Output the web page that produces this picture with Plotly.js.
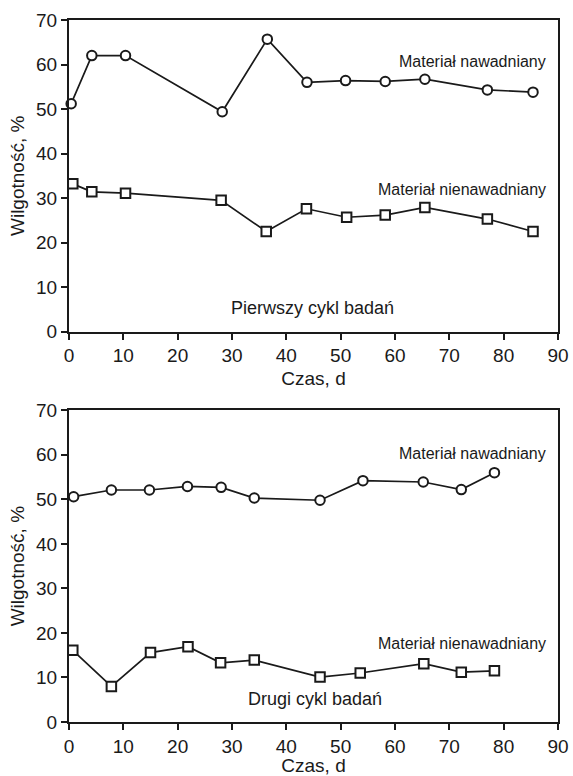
<!DOCTYPE html>
<html>
<head>
<meta charset="utf-8">
<script src="https://cdn.plot.ly/plotly-3.0.1.min.js"></script>
<style>html,body{margin:0;padding:0;background:#fff}#c{width:573px;height:776px}</style>
</head>
<body>
<div id="c"></div>
<script>
// Cycle 1 (Pierwszy cykl badań)
const c1WetX = [0.4, 4.2, 10.4, 28.2, 36.5, 43.8, 50.9, 58.2, 65.5, 77.0, 85.4];
const c1WetY = [51.2, 62.0, 62.0, 49.4, 65.7, 56.0, 56.4, 56.2, 56.7, 54.3, 53.8];
const c1DryX = [0.7, 4.2, 10.4, 28.0, 36.3, 43.7, 51.1, 58.2, 65.5, 77.0, 85.4];
const c1DryY = [33.2, 31.4, 31.1, 29.5, 22.5, 27.6, 25.7, 26.2, 27.9, 25.3, 22.5];
// Cycle 2 (Drugi cykl badań)
const c2WetX = [0.85, 7.8, 14.8, 21.8, 28.0, 34.1, 46.2, 54.1, 65.2, 72.2, 78.3];
const c2WetY = [50.6, 52.1, 52.1, 52.9, 52.7, 50.3, 49.8, 54.2, 53.9, 52.2, 56.0];
const c2DryX = [0.7, 7.8, 15.0, 21.9, 27.9, 34.1, 46.2, 53.6, 65.3, 72.2, 78.3];
const c2DryY = [16.1, 8.0, 15.6, 16.9, 13.3, 13.9, 10.1, 11.0, 13.1, 11.2, 11.5];

const xTicks = [0, 10, 20, 30, 40, 50, 60, 70, 80, 90];
const yTicks = [0, 10, 20, 30, 40, 50, 60, 70];
const xTitle = "Czas, d";
const yTitle = "Wilgotność, %";
const labelWet = "Materiał nawadniany";
const labelDry = "Materiał nienawadniany";
const cycle1 = "Pierwszy cykl badań";
const cycle2 = "Drugi cykl badań";

const ink = "#1a1a1a";
const fam = "Liberation Sans, Arial, sans-serif";
function tr(x, y, sym, xa, ya) {
  return {x: x, y: y, xaxis: xa, yaxis: ya, type: "scatter", mode: "lines+markers",
    line: {color: ink, width: 1.7},
    marker: {symbol: sym, size: 9.5, color: "#fff", line: {color: ink, width: 2}},
    cliponaxis: false, showlegend: false, hoverinfo: "x+y"};
}
const data = [
  tr(c1WetX, c1WetY, "circle", "x", "y"),
  tr(c1DryX, c1DryY, "square", "x", "y"),
  tr(c2WetX, c2WetY, "circle", "x2", "y2"),
  tr(c2DryX, c2DryY, "square", "x2", "y2")
];
function xax(anchor) {
  return {domain: [0, 1], anchor: anchor, range: [0, 90], tickvals: xTicks,
    ticks: "outside", ticklen: 6, tickwidth: 2, tickcolor: ink, showline: true, linecolor: ink, linewidth: 2,
    mirror: true, showgrid: false, zeroline: false, tickfont: {size: 19, family: fam, color: ink},
    title: {text: xTitle, font: {size: 19, family: fam, color: ink}, standoff: 6}};
}
function yax(anchor, dom) {
  return {domain: dom, anchor: anchor, range: [0, 70], tickvals: yTicks,
    ticks: "outside", ticklen: 6, tickwidth: 2, tickcolor: ink, showline: true, linecolor: ink, linewidth: 2,
    mirror: true, showgrid: false, zeroline: false, tickfont: {size: 19, family: fam, color: ink},
    title: {text: yTitle, font: {size: 19, family: fam, color: ink}, standoff: 6}};
}
function ann(text, x, y, xref, yref, anchor, size) {
  return {text: text, x: x, y: y, xref: xref, yref: yref, xanchor: anchor, yanchor: "middle",
    showarrow: false, borderpad: 0, font: {size: size, family: fam, color: ink}};
}
const layout = {
  width: 573, height: 776,
  margin: {l: 69, r: 15, t: 20, b: 54},
  paper_bgcolor: "#fff", plot_bgcolor: "#fff",
  font: {family: fam, color: ink},
  xaxis: xax("y"),
  yaxis: yax("x", [0.556, 1]),
  xaxis2: xax("y2"),
  yaxis2: yax("x2", [0, 0.444]),
  annotations: [
    ann(labelWet, 88.0, 60.6, "x", "y", "right", 16),
    ann(labelDry, 88.0, 32.0, "x", "y", "right", 16),
    ann(cycle1, 29.7, 5.4, "x", "y", "left", 18),
    ann(labelWet, 88.0, 60.4, "x2", "y2", "right", 16),
    ann(labelDry, 88.0, 17.6, "x2", "y2", "right", 16),
    ann(cycle2, 32.8, 5.1, "x2", "y2", "left", 18)
  ]
};
Plotly.newPlot("c", data, layout, {staticPlot: true});
</script>
</body>
</html>
